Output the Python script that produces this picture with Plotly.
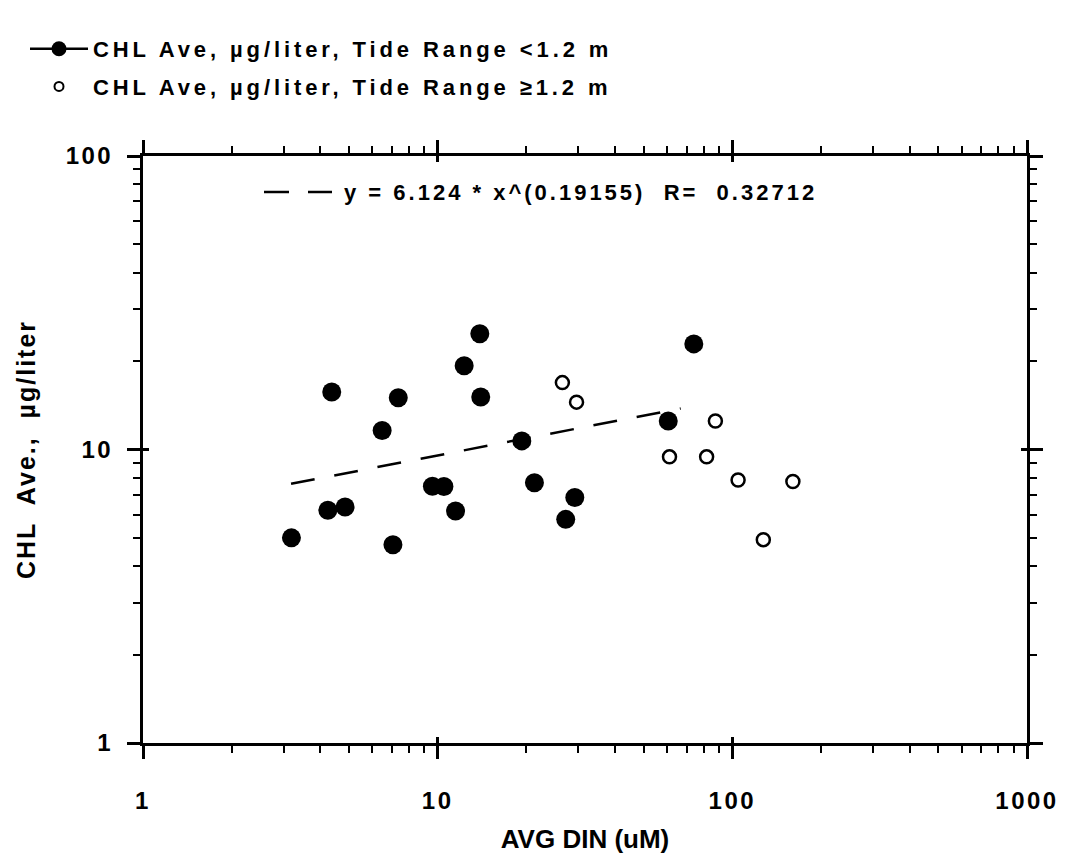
import plotly.graph_objects as go

# ---------------- data ----------------
low_x = [3.19, 4.37, 4.24, 4.85, 6.48, 7.35, 7.05, 9.6, 10.5, 11.5, 12.3, 13.9,
         14.0, 19.3, 21.3, 27.2, 29.2, 60.6, 74.0]
low_y = [5.0, 15.7, 6.21, 6.37, 11.6, 15.0, 4.74, 7.5, 7.48, 6.17, 19.3, 24.8,
         15.1, 10.7, 7.7, 5.78, 6.86, 12.5, 22.9]

high_x = [26.5, 29.6, 61.2, 81.8, 87.6, 104.6, 127.4, 160.5]
high_y = [16.9, 14.5, 9.44, 9.44, 12.5, 7.87, 4.93, 7.78]

fit_x = [3.18, 66.8]
fit_y = [7.64, 13.8]

x_major = [1, 10, 100, 1000]
x_major_text = ["1", "10", "100", "1000"]
y_major = [1, 10, 100]
y_major_text = ["1", "10", "100"]
x_minor = [m * d for d in (1, 10, 100) for m in range(2, 10)]
y_minor = [m * d for d in (1, 10) for m in range(2, 10)]

low_name = "CHL Ave, µg/liter, Tide Range <1.2 m"
high_name = "CHL Ave, µg/liter, Tide Range ≥1.2 m"
fit_label = "y = 6.124 * x^(0.19155)  R=  0.32712"
x_title = "AVG DIN (uM)"
y_title = "CHL  Ave.,  µg/liter"

FONT = "Liberation Sans, Arial, Helvetica, sans-serif"


def spaced(s, px):
    return f'<span style="letter-spacing:{px}px">{s}</span>'


fig = go.Figure()

fig.add_trace(go.Scatter(
    x=fit_x, y=fit_y, mode="lines", showlegend=False, hoverinfo="skip",
    line=dict(color="black", width=2.5, dash="24px,20px")))

fig.add_trace(go.Scatter(
    x=low_x, y=low_y, mode="markers", showlegend=False,
    marker=dict(symbol="circle", size=19, color="black")))

fig.add_trace(go.Scatter(
    x=high_x, y=high_y, mode="markers", showlegend=False,
    marker=dict(symbol="circle-open", size=13, color="black",
                line=dict(width=2.5, color="black"))))

# legend entries
fig.add_trace(go.Scatter(
    x=[None], y=[None], xaxis="x2", yaxis="y2", mode="lines+markers",
    name=spaced(low_name, 3.9), legendgroup="a",
    line=dict(color="black", width=2.5),
    marker=dict(symbol="circle", size=15, color="black")))
fig.add_trace(go.Scatter(
    x=[None], y=[None], xaxis="x2", yaxis="y2", mode="markers",
    name=spaced(high_name, 3.9), legendgroup="b",
    marker=dict(symbol="circle-open", size=9, color="black",
                line=dict(width=2, color="black"))))

W, H = 1067, 857
L, T = 143, 156
R = W - 1027
B = H - 743
PW, PH = W - L - R, H - T - B


def px_x(p):
    return (p - L) / PW


def px_y(p):
    return 1 - (p - T) / PH


BOLD = "bold"

axis_common = dict(
    type="log", showgrid=False, zeroline=False,
    showline=True, linewidth=3, linecolor="black", mirror="ticks",
    ticks="outside", ticklen=13, tickwidth=2.5, tickcolor="black",
    tickmode="array",
    tickfont=dict(family=FONT, size=24, color="black", weight=BOLD),
)

fig.update_layout(
    width=W, height=H,
    margin=dict(l=L, r=R, t=T, b=B, autoexpand=False),
    paper_bgcolor="white", plot_bgcolor="white",
    font=dict(family=FONT, color="black", size=22),
    xaxis=dict(
        **axis_common, range=[0, 3],
        tickvals=x_major, ticktext=[spaced(t, 2.5) for t in x_major_text],
        ticklabelstandoff=21,
        minor=dict(ticks="outside", ticklen=7, tickwidth=2, tickcolor="black",
                   tickmode="array", tickvals=x_minor, showgrid=False),
        title=dict(text=x_title, font=dict(family=FONT, size=26, weight=BOLD), standoff=18),
    ),
    yaxis=dict(
        **axis_common, range=[0, 2],
        tickvals=y_major, ticktext=[spaced(t, 2.5) for t in y_major_text],
        ticklabelstandoff=9,
        minor=dict(ticks="outside", ticklen=7, tickwidth=2, tickcolor="black",
                   tickmode="array", tickvals=y_minor, showgrid=False),
        title=dict(text=spaced(y_title, 2), font=dict(family=FONT, size=25, weight=BOLD),
                   standoff=23),
    ),
    xaxis2=dict(type="log", range=[0, 3], overlaying="x", anchor="y2", side="bottom",
                showgrid=False, zeroline=False, showline=False, mirror="ticks",
                ticks="inside", ticklen=6, tickwidth=2.5, tickcolor="black",
                tickmode="array", tickvals=x_major, showticklabels=False),
    yaxis2=dict(type="log", range=[0, 2], overlaying="y", anchor="x2", side="left",
                showgrid=False, zeroline=False, showline=False, mirror="ticks",
                ticks="inside", ticklen=6, tickwidth=2.5, tickcolor="black",
                tickmode="array", tickvals=y_major, showticklabels=False),
    showlegend=True,
    legend=dict(x=px_x(25), y=px_y(28), xanchor="left", yanchor="top",
                bgcolor="rgba(0,0,0,0)", borderwidth=0,
                font=dict(family=FONT, size=22, color="black", weight=BOLD),
                itemwidth=58, tracegroupgap=6, traceorder="grouped"),
    annotations=[dict(
        xref="paper", yref="paper", x=px_x(342), y=px_y(193),
        xanchor="left", yanchor="middle", showarrow=False,
        text=spaced(fit_label, 3.0),
        font=dict(family=FONT, size=22, color="black", weight=BOLD))],
    shapes=[dict(
        type="line", xref="paper", yref="paper",
        x0=px_x(264), x1=px_x(332), y0=px_y(192), y1=px_y(192),
        line=dict(color="black", width=2.5, dash="25px,19px"))],
)

fig.write_html(
    "out.html",
    config={"displayModeBar": False},
    post_script="document.body.style.margin='0';document.body.style.padding='0';",
)
